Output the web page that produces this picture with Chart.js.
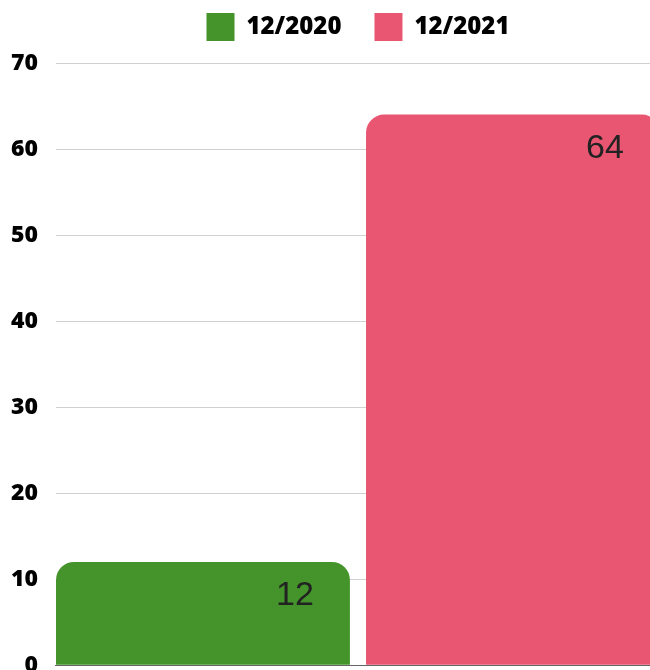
<!DOCTYPE html>
<html>
<head>
<meta charset="utf-8">
<script src="https://cdn.jsdelivr.net/npm/chart.js@4"></script>
<style>
 html, body { margin: 0; padding: 0; overflow: hidden; background: #fff; }
 #wrap { width: 662px; height: 697px; position: relative; }
</style>
</head>
<body>
<div id="wrap"><canvas id="bar-chart"></canvas></div>
<script>
// Chart values
const categories = [""];
const seriesLabels = ["12/2020", "12/2021"];
const values2020 = [12];
const values2021 = [64];
const seriesColors = ["#44942b", "#e85672"];

// Extra room between the legend and the plot
const legendSpacing = {
 id: "legendSpacing",
 beforeInit(chart) {
  const fit = chart.legend.fit;
  chart.legend.fit = function () {
   fit.call(this);
   this.height += 12;
  };
 },
};

// Value labels drawn near the top right of each bar
const valueLabels = {
 id: "valueLabels",
 afterDatasetsDraw(chart) {
  const ctx = chart.ctx;
  ctx.save();
  ctx.font = "34px 'Liberation Sans', Arial, sans-serif";
  ctx.fillStyle = "#222";
  ctx.textAlign = "right";
  ctx.textBaseline = "alphabetic";
  chart.data.datasets.forEach((dataset, i) => {
   chart.getDatasetMeta(i).data.forEach((bar, j) => {
    const right = bar.x + bar.width / 2 - 36;
    ctx.fillText(dataset.data[j], right, bar.y + 43);
   });
  });
  ctx.restore();
 },
};

let data = {
 labels: categories,
 datasets: [
  {
   label: seriesLabels[0],
   data: values2020,
   backgroundColor: seriesColors[0],
   borderRadius: 18,
  },
  {
   label: seriesLabels[1],
   data: values2021,
   backgroundColor: seriesColors[1],
   borderRadius: 18,
  },
 ],
};

const config = {
 type: "bar",
 data: data,
 options: {
  responsive: true,
  maintainAspectRatio: false,
  animation: false,
  categoryPercentage: 1.0265,
  barPercentage: 0.948,
  layout: {
   padding: { top: -20, left: -7, right: 2, bottom: 2 },
  },
  plugins: {
   legend: {
    display: true,
    fullSize: false,
    labels: {
     boxWidth: 28,
     boxHeight: 28,
     padding: 33,
     color: "#000",
     font: {
      family: "'Open Sans', sans-serif",
      size: 24,
      weight: 800,
     },
    },
   },
   tooltip: { enabled: false },
  },
  scales: {
   x: {
    grid: { display: false },
    border: { display: true, color: "#666" },
    ticks: { display: false },
   },
   y: {
    min: 0,
    max: 70,
    ticks: {
     stepSize: 10,
     padding: 18,
     color: "#000",
     font: {
      family: "'Open Sans', sans-serif",
      size: 23,
      weight: 800,
     },
    },
    grid: {
     color: "#d0d0d0",
     drawTicks: false,
    },
    border: { display: false },
   },
  },
 },
 plugins: [legendSpacing, valueLabels],
};

const barChart = new Chart(document.getElementById("bar-chart"), config);
</script>
</body>
</html>
